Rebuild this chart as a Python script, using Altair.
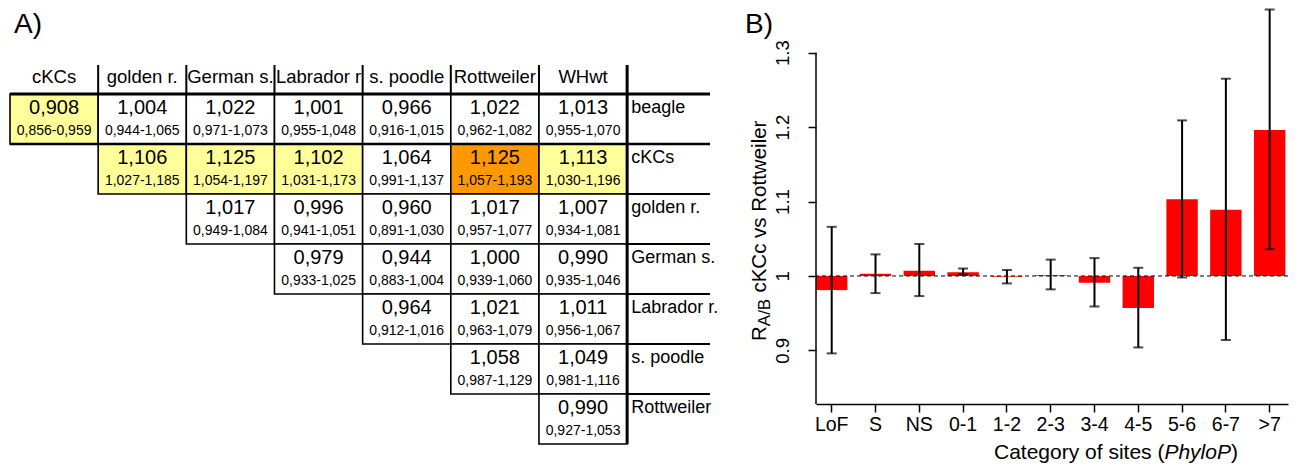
import altair as alt
import pandas as pd

FONT = "Liberation Sans"

# ---------------- Panel A data (pairwise RA/B table) ----------------
col_labels = ["cKCs", "golden r.", "German s.", "Labrador r", "s. poodle", "Rottweiler", "WHwt"]
row_labels = ["beagle", "cKCs", "golden r.", "German s.", "Labrador r.", "s. poodle", "Rottweiler"]

val_beagle = [0.908, 1.004, 1.022, 1.001, 0.966, 1.022, 1.013]
lo_beagle = [0.856, 0.944, 0.971, 0.955, 0.916, 0.962, 0.955]
hi_beagle = [0.959, 1.065, 1.073, 1.048, 1.015, 1.082, 1.070]

val_ckcs = [1.106, 1.125, 1.102, 1.064, 1.125, 1.113]
lo_ckcs = [1.027, 1.054, 1.031, 0.991, 1.057, 1.030]
hi_ckcs = [1.185, 1.197, 1.173, 1.137, 1.193, 1.196]

val_golden = [1.017, 0.996, 0.960, 1.017, 1.007]
lo_golden = [0.949, 0.941, 0.891, 0.957, 0.934]
hi_golden = [1.084, 1.051, 1.030, 1.077, 1.081]

val_german = [0.979, 0.944, 1.000, 0.990]
lo_german = [0.933, 0.883, 0.939, 0.935]
hi_german = [1.025, 1.004, 1.060, 1.046]

val_labrador = [0.964, 1.021, 1.011]
lo_labrador = [0.912, 0.963, 0.956]
hi_labrador = [1.016, 1.079, 1.067]

val_poodle = [1.058, 1.049]
lo_poodle = [0.987, 0.981]
hi_poodle = [1.129, 1.116]

val_rott = [0.990]
lo_rott = [0.927]
hi_rott = [1.053]

focus_pair = ("cKCs", "Rottweiler")

# ---------------- Panel B data ----------------
categories = ["LoF", "S", "NS", "0-1", "1-2", "2-3", "3-4", "4-5", "5-6", "6-7", ">7"]
ratio = [0.981, 1.003, 1.007, 1.005, 0.999, 1.001, 0.991, 0.957, 1.103, 1.089, 1.196]
ci_lo = [0.896, 0.977, 0.973, 1.002, 0.990, 0.982, 0.959, 0.904, 0.998, 0.914, 1.036]
ci_hi = [1.066, 1.029, 1.043, 1.010, 1.008, 1.022, 1.024, 1.011, 1.209, 1.265, 1.358]

# ---------------- build table frame ----------------
def fmt(v):
    return f"{v:.3f}".replace(".", ",")

vals = [val_beagle, val_ckcs, val_golden, val_german, val_labrador, val_poodle, val_rott]
los = [lo_beagle, lo_ckcs, lo_golden, lo_german, lo_labrador, lo_poodle, lo_rott]
his = [hi_beagle, hi_ckcs, hi_golden, hi_german, hi_labrador, hi_poodle, hi_rott]

recs = []
for r, (vs, ls, hs) in enumerate(zip(vals, los, his)):
    start = len(col_labels) - len(vs)
    for k, (v, l, h) in enumerate(zip(vs, ls, hs)):
        c = start + k
        if (row_labels[r], col_labels[c]) == focus_pair:
            kind = "focus"
        elif l > 1 or h < 1:
            kind = "sig"
        else:
            kind = "ns"
        recs.append(dict(r0=r, r1=r + 1, c0=c, c1=c + 1, cm=c + 0.5,
                         vtxt=fmt(v), rtxt=f"{fmt(l)}-{fmt(h)}", kind=kind))
cells_df = pd.DataFrame(recs)
ncol = len(col_labels)
nrow = len(row_labels)
header_df = pd.DataFrame({"cm": [i + 0.5 for i in range(ncol)], "lab": col_labels})
rowlab_df = pd.DataFrame({"r": list(range(nrow)), "lab": row_labels})
sep_df = pd.DataFrame({"c": list(range(1, ncol))})
labline_df = pd.DataFrame({"r": list(range(2, nrow))})
one = pd.DataFrame({"k": [0]})

XMAX = 7.94
HEAD = -0.58
xA = alt.Scale(domain=[0, XMAX], nice=False, zero=False)
yA = alt.Scale(domain=[-1.72, 7.08], nice=False, zero=False, reverse=True)

cells = alt.Chart(cells_df).mark_rect(stroke="black", strokeWidth=1.6).encode(
    x=alt.X("c0:Q", scale=xA, axis=None), x2="c1:Q",
    y=alt.Y("r0:Q", scale=yA, axis=None), y2="r1:Q",
    fill=alt.Fill("kind:N", legend=None,
                  scale=alt.Scale(domain=["ns", "sig", "focus"],
                                  range=["#FFFFFF", "#FFFF99", "#FF9900"])))
vtext = alt.Chart(cells_df).mark_text(font=FONT, fontSize=20, dy=14, baseline="middle", color="black").encode(
    x="cm:Q", y="r0:Q", text="vtxt:N")
rtext = alt.Chart(cells_df).mark_text(font=FONT, fontSize=14, dy=37, baseline="middle", color="black").encode(
    x="cm:Q", y="r0:Q", text="rtxt:N")
htext = alt.Chart(header_df).mark_text(font=FONT, fontSize=18.5, dy=-17, baseline="middle", color="black").encode(
    x="cm:Q", y=alt.datum(0), text="lab:N")
ltext = alt.Chart(rowlab_df).mark_text(font=FONT, fontSize=18, dx=4, dy=14, align="left",
                                        baseline="middle", color="black").encode(
    x=alt.datum(ncol), y="r:Q", text="lab:N")
top_line = alt.Chart(one).mark_rule(strokeWidth=3, color="black").encode(
    x=alt.datum(0), x2=alt.datum(XMAX), y=alt.datum(0))
first_line = alt.Chart(one).mark_rule(strokeWidth=2.5, color="black").encode(
    x=alt.datum(0), x2=alt.datum(XMAX), y=alt.datum(1))
lab_lines = alt.Chart(labline_df).mark_rule(strokeWidth=2, color="black").encode(
    x=alt.datum(ncol), x2=alt.datum(XMAX), y="r:Q")
head_seps = alt.Chart(sep_df).mark_rule(strokeWidth=2, color="black").encode(
    x="c:Q", y=alt.datum(HEAD), y2=alt.datum(0))
right_line = alt.Chart(one).mark_rule(strokeWidth=3, color="black").encode(
    x=alt.datum(ncol), y=alt.datum(HEAD), y2=alt.datum(nrow))
a_lab = alt.Chart(one).mark_text(text="A)", font=FONT, fontSize=28, align="left",
                                 baseline="alphabetic", color="black").encode(
    x=alt.value(4), y=alt.value(25))

panelA = alt.layer(cells, vtext, rtext, htext, ltext, top_line, first_line,
                   lab_lines, head_seps, right_line, a_lab).properties(width=700, height=440)

# ---------------- Panel B ----------------
dfB = pd.DataFrame({"cat": categories, "ratio": ratio, "lo": ci_lo, "hi": ci_hi})
YMIN, YMAX = 0.828, 1.36
xs = alt.Scale(paddingInner=0.283, paddingOuter=0.03, align=0)
ys = alt.Scale(domain=[YMIN, YMAX], nice=False, zero=False)
xenc = alt.X("cat:N", sort=categories, scale=xs,
             axis=alt.Axis(title=None, labelAngle=0, labelFontSize=19.5, labelFont=FONT,
                           labelColor="black", tickSize=8, tickColor="black", tickWidth=1.5,
                           domainColor="black", domainWidth=1.5, labelPadding=3, grid=False))
yaxis = alt.Axis(title=None, values=[0.9, 1.0, 1.1, 1.2, 1.3], format="~g", labelAngle=270,
                 labelAlign="center", labelBaseline="alphabetic", labelFontSize=18.5,
                 labelFont=FONT, labelColor="black", labelPadding=20, tickSize=8,
                 tickColor="black", tickWidth=1.5, domain=False, grid=False)

bars = alt.Chart(dfB).mark_bar(color="#FF0000").encode(
    x=xenc, y=alt.Y("ratio:Q", scale=ys, axis=yaxis), y2=alt.datum(1))
dash = alt.Chart(one).mark_rule(color="black", strokeWidth=1, strokeDash=[4, 3]).encode(
    y=alt.datum(1))
err = alt.Chart(dfB).mark_rule(color="black", strokeWidth=2).encode(
    x=alt.X("cat:N", sort=categories), y="lo:Q", y2="hi:Q")
cap_lo = alt.Chart(dfB).mark_tick(color="black", size=10, thickness=2).encode(
    x=alt.X("cat:N", sort=categories), y="lo:Q")
cap_hi = alt.Chart(dfB).mark_tick(color="black", size=10, thickness=2).encode(
    x=alt.X("cat:N", sort=categories), y="hi:Q")
yline = alt.Chart(one).mark_rule(color="black", strokeWidth=1.5).encode(
    x=alt.value(0), y=alt.datum(YMIN), y2=alt.datum(1.3))

b_lab = alt.Chart(one).mark_text(text="B)", font=FONT, fontSize=28, align="left",
                                 baseline="alphabetic", color="black").encode(
    x=alt.value(-71), y=alt.value(25))
yt1 = alt.Chart(one).mark_text(text="R", font=FONT, fontSize=20.5, angle=270, align="left",
                               baseline="alphabetic", color="black").encode(
    x=alt.value(-50), y=alt.value(333))
yt2 = alt.Chart(one).mark_text(text="A/B", font=FONT, fontSize=17, angle=270, align="left",
                               baseline="alphabetic", color="black").encode(
    x=alt.value(-46), y=alt.value(318.2))
yt3 = alt.Chart(one).mark_text(text="cKCc vs Rottweiler", font=FONT, fontSize=20.5, angle=270,
                               align="left", baseline="alphabetic", color="black").encode(
    x=alt.value(-50), y=alt.value(284.6))
xt1 = alt.Chart(one).mark_text(text="Category of sites (", font=FONT, fontSize=21, align="left",
                               baseline="alphabetic", color="black").encode(
    x=alt.value(178), y=alt.value(451))
xt2 = alt.Chart(one).mark_text(text="PhyloP", font=FONT, fontSize=21, fontStyle="italic",
                               align="left", baseline="alphabetic", color="black").encode(
    x=alt.value(348.4), y=alt.value(451))
xt3 = alt.Chart(one).mark_text(text=")", font=FONT, fontSize=21, align="left",
                               baseline="alphabetic", color="black").encode(
    x=alt.value(415), y=alt.value(451))

panelB = alt.layer(bars, dash, err, cap_lo, cap_hi, yline, b_lab, yt1, yt2, yt3,
                   xt1, xt2, xt3).properties(width=472, height=396)

chart = alt.hconcat(panelA, panelB, spacing=106, bounds="flush").properties(
    padding=0, background="white"
).configure(font=FONT).configure_view(stroke=None, strokeWidth=0)

chart.save("out.html", embed_options={"renderer": "svg", "actions": False})
